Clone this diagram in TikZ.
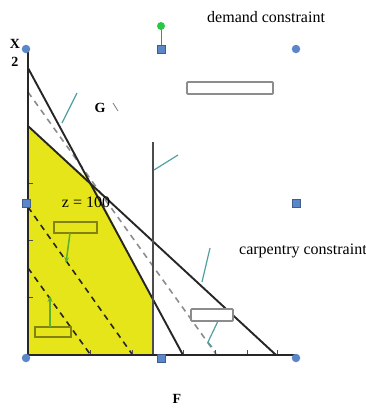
\documentclass[tikz,border=0pt]{standalone}
\usepackage{fontspec}
\setmainfont{Liberation Serif}
\usetikzlibrary{arrows.meta}
\definecolor{regyel}{RGB}{229,229,26}
\definecolor{olivebox}{RGB}{130,130,20}
\definecolor{graybox}{RGB}{140,140,140}
\definecolor{tealc}{RGB}{80,160,160}
\definecolor{greenc}{RGB}{90,175,50}
\definecolor{markblue}{RGB}{91,135,201}
\definecolor{markgreen}{RGB}{40,200,70}
\begin{document}
\begin{tikzpicture}[x=1pt,y=-1pt,
  axisline/.style={line width=2.4pt,draw=black!85},
  conline/.style={line width=1.9pt,draw=black!85},
  demline/.style={line width=2pt,draw=black!70},
  isodash/.style={line width=1.6pt,draw=black!85,dash pattern=on 6pt off 5pt},
  optdash/.style={line width=1.6pt,draw=black!45,dash pattern=on 6pt off 5pt},
  tickline/.style={line width=1pt,draw=black!70},
  callt/.style={line width=1.2pt,draw=tealc},
  callg/.style={line width=1.5pt,draw=greenc,-{Stealth[length=6pt,width=5pt]}},
  graylbl/.style={draw=graybox,line width=1.8pt,fill=white,rounded corners=1pt,inner sep=0pt},
  yellbl/.style={draw=olivebox,line width=1.5pt,fill=regyel,inner sep=0pt},
  rmark/.style={circle,fill=markblue,inner sep=0pt,minimum size=8.5pt},
  smark/.style={rectangle,fill=markblue,draw=markblue!70!black,line width=0.3pt,inner sep=0pt,minimum size=8pt},
  lbl/.style={font=\fontsize{16}{19}\selectfont,inner sep=0pt},
  blbl/.style={font=\fontsize{14}{16}\selectfont\bfseries,inner sep=0pt}
]
\useasboundingbox (0,0) rectangle (366,408);

% key coordinates
\coordinate (O) at (28,355);
\coordinate (Ytop) at (28,49);
\coordinate (Xend) at (296,355);
\coordinate (Aa) at (28,126);
\coordinate (Ab) at (276,355);
\coordinate (Ba) at (28,68);
\coordinate (Bb) at (183,355);
\coordinate (Cx) at (92,183);
\coordinate (Dtop) at (153,142);
\coordinate (Dbot) at (153,355);
\coordinate (Dmid) at (153,299);

% feasible region
\fill[regyel] (Aa) -- (Cx) -- (Dmid) -- (Dbot) -- (O) -- cycle;

% iso-profit lines
\coordinate (I1a) at (28,207); \coordinate (I1b) at (132,354);
\coordinate (I2a) at (28,268); \coordinate (I2b) at (90,354);
\coordinate (I3a) at (28,92);  \coordinate (I3b) at (216,354);
\draw[isodash] (I1a) -- (I1b);
\draw[isodash] (I2a) -- (I2b);
\draw[optdash] (I3a) -- (I3b);

% constraint lines
\draw[conline] (Aa) -- (Ab);
\draw[conline] (Ba) -- (Bb);
\draw[demline] (Dtop) -- (Dbot);

% ticks
\foreach \ty in {183,240,297} \draw[tickline] (28,\ty) -- (33,\ty);
\foreach \tx in {90,132,183,215,247,277} \draw[tickline] (\tx,355) -- (\tx,350);

% axes
\draw[axisline] (Ytop) -- (O) -- (Xend);

% labels boxes
\node[graylbl,minimum width=86pt,minimum height=12pt] (b1) at (230,88) {};
\node[graylbl,minimum width=42pt,minimum height=12pt] (b2) at (212,315) {};
\node[yellbl,minimum width=43pt,minimum height=11pt] (b3) at (75.5,227.5) {};
\node[yellbl,minimum width=36pt,minimum height=10pt] (b4) at (53,332) {};

% callouts
\coordinate (c1a) at (77,93);  \coordinate (c1b) at (62,123);
\coordinate (c2a) at (178,155); \coordinate (c2b) at (154,170);
\coordinate (c3a) at (210,248); \coordinate (c3b) at (202,282);
\coordinate (c4a) at (218,321); \coordinate (c4b) at (208,342); \coordinate (c4c) at (212,347);
\draw[callt] (c1a) -- (c1b);
\draw[callt] (c2a) -- (c2b);
\draw[callt] (c3a) -- (c3b);
\draw[callt] (c4a) -- (c4b) -- (c4c);
\coordinate (g1a) at (70,233); \coordinate (g1b) at (66,263);
\coordinate (g2a) at (50,327); \coordinate (g2b) at (50,296);
\draw[callg] (g1a) -- (g1b);
\draw[callg] (g2a) -- (g2b);

% markers
\coordinate (gs) at (161,26); \coordinate (gq) at (161,49);
\draw[line width=1pt,draw=black!55] (gs) -- (gq);
\node[circle,fill=markgreen,inner sep=0pt,minimum size=8pt] (m0) at (gs) {};
\node[rmark] (m1) at (26,49) {};
\node[smark] (m2) at (gq) {};
\node[rmark] (m3) at (296,49) {};
\node[smark] (m4) at (26,203) {};
\node[smark] (m5) at (296,203) {};
\node[rmark] (m6) at (26,358) {};
\node[smark] (m7) at (161,358) {};
\node[rmark] (m8) at (296,358) {};

% texts
\node[lbl,anchor=west] (t1) at (207,17) {demand constraint};
\node[lbl,anchor=west] (t2) at (239,251) {carpentry constraint};
\node[lbl] (t3) at (86,202) {z = 100};
\node[blbl] (tG) at (100,108) {G};
\coordinate (gsa) at (113,103); \coordinate (gsb) at (118,111);
\draw[line width=0.8pt,draw=black!50] (gsa) -- (gsb);
\node[blbl] (tX) at (15,44) {X};
\node[blbl] (t2b) at (15,62) {2};
\node[blbl] (tF) at (177,399) {F};
\end{tikzpicture}
\end{document}
